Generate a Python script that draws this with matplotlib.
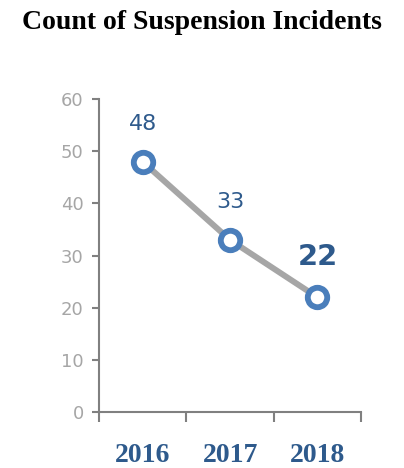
import matplotlib
matplotlib.use("Agg")
import matplotlib.pyplot as plt

years = ["2016", "2017", "2018"]
counts = [48, 33, 22]
yticks = [0, 10, 20, 30, 40, 50, 60]

fig = plt.figure(figsize=(4.04, 4.68), dpi=100)
ax = fig.add_axes([0.245, 0.1197, 0.649, 0.6683])

x = list(range(len(years)))
ax.plot(x, counts, color="#A6A6A6", lw=4.3, zorder=2, solid_capstyle="butt")
ax.plot(x, counts, "o", ms=14, mfc="white", mec="#4A7EBB", mew=4.2, zorder=3)

for i, (xi, v) in enumerate(zip(x, counts)):
    last = i == len(counts) - 1
    ax.annotate(str(v), (xi, v), xytext=(0, 27 if not last else 29), textcoords="offset points",
                ha="center", va="center", color="#2E5A8C",
                fontsize=21 if last else 16, fontweight="bold" if last else "normal",
                family="DejaVu Sans")

ax.set_xlim(-0.5, 2.5)
ax.set_ylim(0, 60)
ax.set_yticks(yticks)
ax.set_xticks(x)
ax.set_xticklabels(years, family="Liberation Serif", fontweight="bold", fontsize=20, color="#2E5A8C")
ax.set_xticks([-0.5, 0.5, 1.5, 2.5], minor=True)
ax.tick_params(axis="x", which="major", length=0, pad=22)
ax.tick_params(axis="x", which="minor", length=7, width=1.5, color="#808080", direction="out")
ax.tick_params(axis="y", length=5, width=1.5, color="#808080", labelcolor="#A6A6A6", labelsize=13, pad=6)
for s in ["top", "right"]:
    ax.spines[s].set_visible(False)
for s in ["left", "bottom"]:
    ax.spines[s].set_color("#808080")
    ax.spines[s].set_linewidth(1.5)

fig.text(0.5, 0.951, "Count of Suspension Incidents", ha="center", va="center",
         family="Liberation Serif", fontweight="bold", fontsize=20, color="black")

fig.savefig("out.png", dpi=100)
